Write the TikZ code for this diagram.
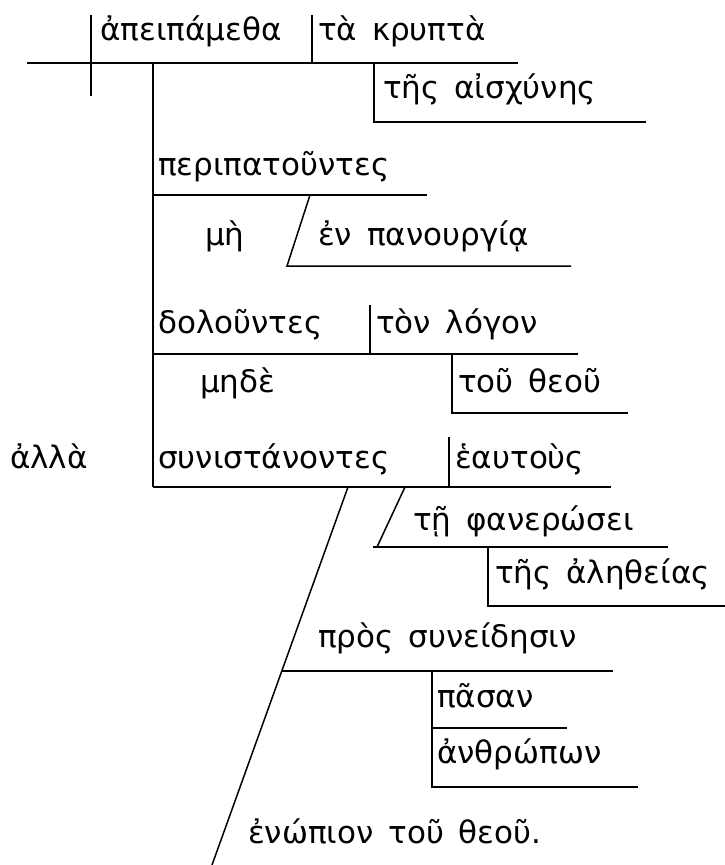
\documentclass[tikz,border=0pt]{standalone}
\usepackage{fontspec}
\setmainfont{DejaVu Sans}[WordSpace=1.5]
\begin{document}
\begin{tikzpicture}[x=1pt, y=-1pt,
    word/.style={anchor=base west, inner sep=0pt, font=\fontsize{31}{36}\selectfont},
    rule/.style={line width=1.5pt}
  ]
  \useasboundingbox (0,0) rectangle (725,865);

  % main clause
  \node[word] (verb) at (100,40) {ἀπειπάμεθα};
  \node[word] (dobj) at (318,40) {τὰ κρυπτὰ};
  \node[word] (gen1) at (383,98) {τῆς αἰσχύνης};
  \draw[rule] (27,63) -- (518,63);
  \draw[rule] (91,15) -- (91,96);
  \draw[rule] (312,15) -- (312,63);
  \draw[rule] (374,63) -- (374,122) -- (646,122);

  % participles
  \draw[rule] (153,63) -- (153,487);
  \node[word] (ptc1) at (158,175) {περιπατοῦντες};
  \draw[rule] (153,195) -- (427,195);
  \node[word] (neg1) at (205,245) {μὴ};
  \node[word] (prep1) at (318,245) {ἐν πανουργίᾳ};
  \draw[rule] (310,195) -- (287,266) -- (571,266);

  \node[word] (ptc2) at (158,333) {δολοῦντες};
  \node[word] (dobj2) at (376,333) {τὸν λόγον};
  \draw[rule] (153,354) -- (578,354);
  \draw[rule] (370,305) -- (370,354);
  \node[word] (neg2) at (200,392) {μηδὲ};
  \node[word] (gen2) at (458,392) {τοῦ θεοῦ};
  \draw[rule] (452,354) -- (452,413) -- (628,413);

  \node[word] (conj) at (10,468) {ἀλλὰ};
  \node[word] (ptc3) at (158,468) {συνιστάνοντες};
  \node[word] (dobj3) at (455,468) {ἑαυτοὺς};
  \draw[rule] (153,487) -- (611,487);
  \draw[rule] (449,437) -- (449,487);

  % modifiers of the third participle
  \node[word] (dat3) at (413,530) {τῇ φανερώσει};
  \draw[rule] (405,487) -- (377,547);
  \draw[rule] (373,547) -- (668,547);
  \node[word] (gen3) at (495,583) {τῆς ἀληθείας};
  \draw[rule] (488,547) -- (488,606) -- (725,606);

  \draw[rule] (348,487) -- (212,865);
  \node[word] (prep3) at (318,647) {πρὸς συνείδησιν};
  \draw[rule] (282,671) -- (613,671);
  \node[word] (adj3) at (437,707) {πᾶσαν};
  \node[word] (gen4) at (437,763) {ἀνθρώπων};
  \draw[rule] (432,671) -- (432,787) -- (638,787);
  \draw[rule] (432,728) -- (567,728);
  \node[word] (prep4) at (248,843) {ἐνώπιον τοῦ θεοῦ.};
\end{tikzpicture}
\end{document}
